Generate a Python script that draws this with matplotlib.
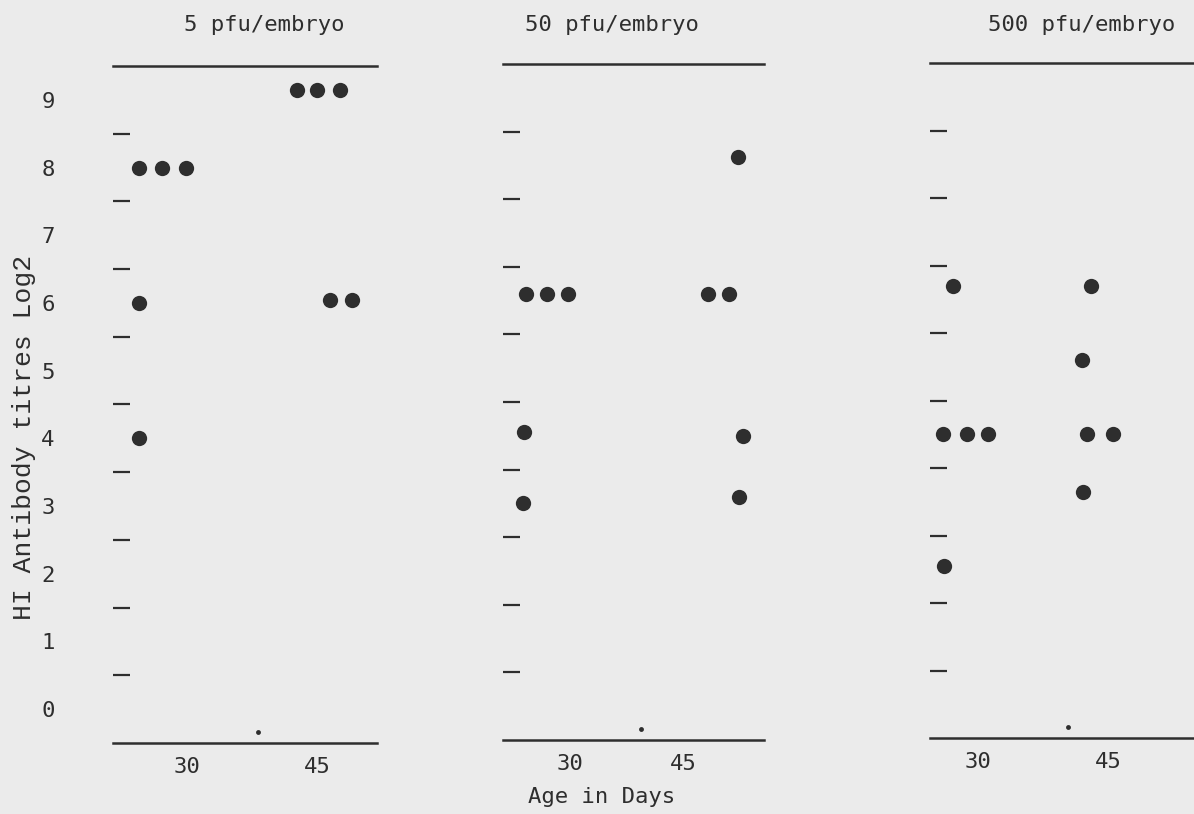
import matplotlib.pyplot as plt
from matplotlib.ticker import FixedLocator

# ---- data ----
panel_titles = ['5 pfu/embryo', '50 pfu/embryo', '500 pfu/embryo']
age_ticks = [30, 45]
titre_ticks = list(range(10))
half_steps = [0.5, 1.5, 2.5, 3.5, 4.5, 5.5, 6.5, 7.5, 8.5]

# x in age-axis units (dots are hand placed side by side), y = log2 titre
low_x = [24.5, 27.1, 29.9, 24.5, 24.5, 42.7, 45.0, 47.6, 46.5, 49.0]
low_y = [8.0, 8.0, 8.0, 6.0, 4.0, 9.15, 9.15, 9.15, 6.05, 6.05]
mid_x = [24.2, 26.9, 29.7, 23.9, 23.8, 48.3, 51.1, 52.3, 53.0, 52.4]
mid_y = [6.1, 6.1, 6.1, 4.05, 3.0, 6.1, 6.1, 8.13, 4.0, 3.1]
high_x = [27.1, 26.0, 28.7, 31.1, 26.1, 43.0, 42.0, 42.6, 45.6, 42.1]
high_y = [6.2, 4.0, 4.0, 4.0, 2.05, 6.2, 5.1, 4.0, 4.0, 3.15]

# small marks just above the baseline of each panel
mark_x = [38.2, 39.4, 40.4]
mark_y = [-0.34, -0.34, -0.34]

# ---- layout (pixels of the 1194x814 scan) ----
W, H = 1194, 814
boxes = [(113, 377, 66, 743), (503, 764, 64, 740), (930, 1193, 63, 738)]
xlims = [(21.46, 51.92), (21.1, 55.75), (24.46, 54.8)]
title_x = [264, 612, 1082]

bg = '#ebebeb'
ink = '#2e2e2e'
mono = 'DejaVu Sans Mono'

fig = plt.figure(figsize=(W / 100, H / 100), dpi=100, facecolor=bg)

series = [(low_x, low_y), (mid_x, mid_y), (high_x, high_y)]

for i, (xs, ys) in enumerate(series):
    l, r, t, b = boxes[i]
    ax = fig.add_axes([l / W, 1 - b / H, (r - l) / W, (b - t) / H])
    ax.set_facecolor(bg)

    ax.plot(xs, ys, 'o', color=ink, markersize=11, markeredgewidth=0)
    ax.plot(mark_x[i], mark_y[i], 'o', color=ink, markersize=3.5, markeredgewidth=0)

    ax.set_xlim(*xlims[i])
    ax.set_ylim(-0.5, 9.5)

    for side in ['left', 'right']:
        ax.spines[side].set_visible(False)
    for side in ['top', 'bottom']:
        ax.spines[side].set_color(ink)
        ax.spines[side].set_linewidth(1.8)

    ax.set_xticks(age_ticks)
    ax.set_xticklabels([str(a) for a in age_ticks], fontfamily=mono, fontsize=16, color=ink)
    ax.tick_params(axis='x', length=0, pad=10)

    # dashes at the half steps, numbers only on the first panel
    ax.yaxis.set_minor_locator(FixedLocator(half_steps))
    ax.tick_params(axis='y', which='minor', direction='in', length=12, width=1.6, color=ink)
    ax.set_yticks(titre_ticks)
    if i == 0:
        ax.set_yticklabels([str(v) for v in titre_ticks], fontfamily=mono, fontsize=16, color=ink)
        ax.tick_params(axis='y', which='major', length=0, pad=42)
    else:
        ax.set_yticklabels([])
        ax.tick_params(axis='y', which='major', length=0)

    fig.text(title_x[i] / W, 1 - 25 / H, panel_titles[i], ha='center', va='center',
             fontfamily=mono, fontsize=16, color=ink)

fig.text(602 / W, 1 - 797 / H, 'Age in Days', ha='center', va='center',
         fontfamily=mono, fontsize=16, color=ink)
fig.text(24 / W, 1 - 437 / H, 'HI Antibody titres Log2', ha='center', va='center',
         rotation=90, fontfamily='Liberation Mono', fontsize=19, color=ink)

fig.savefig('out.png', dpi=100, facecolor=bg)
